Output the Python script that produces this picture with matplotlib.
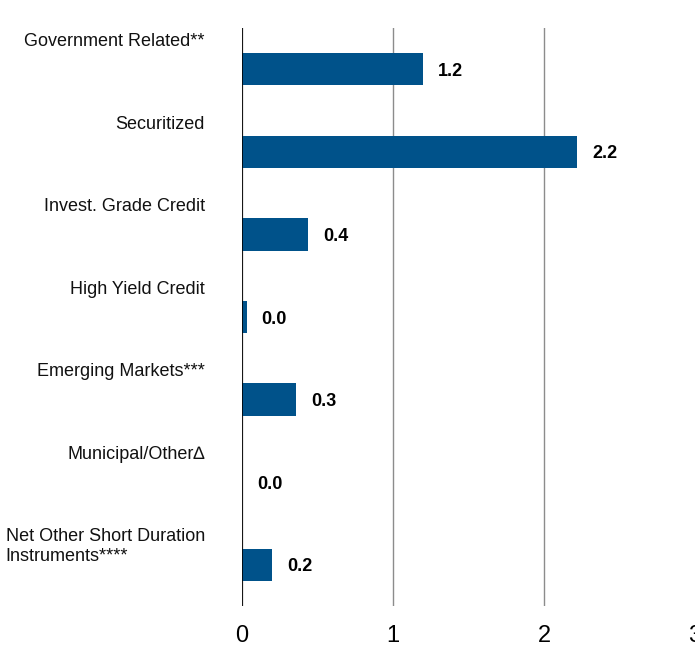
import matplotlib.pyplot as plt
from matplotlib import font_manager

categories = [
    "Government Related**",
    "Securitized",
    "Invest. Grade Credit",
    "High Yield Credit",
    "Emerging Markets***",
    "Municipal/Other\u2206",
    "Net Other Short Duration\nInstruments****",
]
values = [1.20, 2.22, 0.44, 0.03, 0.36, 0.0, 0.20]
value_labels = ["1.2", "2.2", "0.4", "0.0", "0.3", "0.0", "0.2"]
x_ticks = [0, 1, 2, 3]

names = {f.name for f in font_manager.fontManager.ttflist}
family = "Liberation Sans Narrow" if "Liberation Sans Narrow" in names else "Liberation Sans"
plt.rcParams["font.family"] = [family, "DejaVu Sans"]

bar_color = "#00528A"

fig = plt.figure(figsize=(6.95, 6.47), dpi=100)
ax = fig.add_axes([242 / 695, 1 - 606 / 647, 1 - 242 / 695, (606 - 28) / 647])

ypos = list(range(len(categories)))
ax.barh(ypos, values, height=0.39, color=bar_color)

ax.set_xlim(0, 3)
ax.set_ylim(len(categories) - 0.5, -0.5)

# value labels, offset ~15px past bar end
for y, v, lab in zip(ypos, values, value_labels):
    ax.annotate(lab, (v, y), xytext=(15, -2), textcoords="offset pixels",
                ha="left", va="center", fontsize=13, fontweight="bold")

# category labels sit above each bar, left of the axis
for y, name in zip(ypos, categories):
    ax.annotate(name, (0, y - 0.44), xytext=(-37, 0), textcoords="offset pixels",
                ha="right", va="top", multialignment="left", fontsize=13,
                color="#111111", annotation_clip=False)

ax.set_xticks(x_ticks)
ax.set_xticklabels([str(t) for t in x_ticks], fontsize=17)
ax.set_yticks([])
ax.tick_params(axis="x", length=0, pad=14)
for side in ["top", "right", "bottom", "left"]:
    ax.spines[side].set_visible(False)

ax.grid(axis="x", color="#8c8c8c", linewidth=1)
ax.get_xgridlines()[-1].set_visible(False)
ax.set_axisbelow(True)
ax.axvline(0, color="black", linewidth=1.2)

fig.savefig("out.png", dpi=100)
